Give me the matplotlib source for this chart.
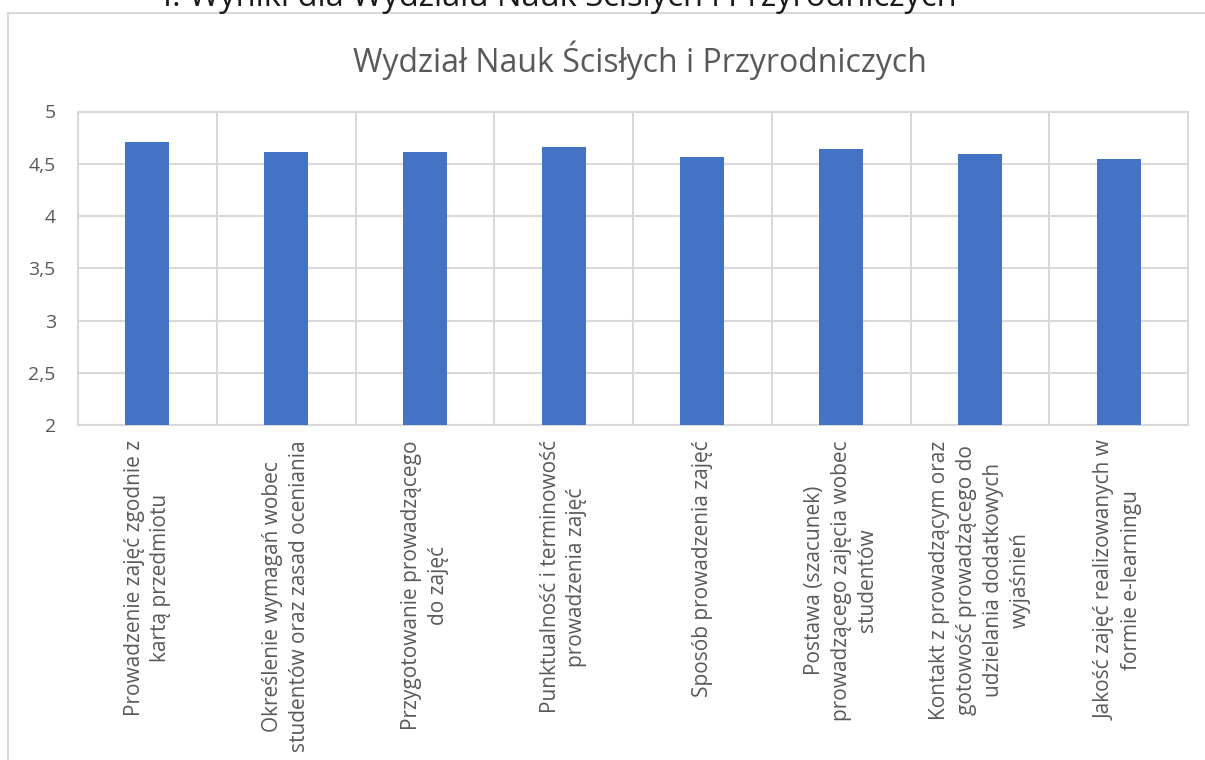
import matplotlib
matplotlib.use("Agg")
import matplotlib.pyplot as plt
from matplotlib.patches import Rectangle
from matplotlib.ticker import FuncFormatter, FixedLocator

plt.rcParams['font.family'] = ['Open Sans', 'DejaVu Sans']

page_heading = "I. Wyniki dla Wydziału Nauk Ścisłych i Przyrodniczych"
title = "Wydział Nauk Ścisłych i Przyrodniczych"
categories = [
    "Prowadzenie zajęć zgodnie z\nkartą przedmiotu",
    "Określenie wymagań wobec\nstudentów oraz zasad oceniania",
    "Przygotowanie prowadzącego\ndo zajęć",
    "Punktualność i terminowość\nprowadzenia zajęć",
    "Sposób prowadzenia zajęć",
    "Postawa (szacunek)\nprowadzącego zajęcia wobec\nstudentów",
    "Kontakt z prowadzącym oraz\ngotowość prowadzącego do\nudzielania dodatkowych\nwyjaśnień",
    "Jakość zajęć realizowanych w\nformie e-learningu",
]
values = [4.71, 4.61, 4.61, 4.66, 4.56, 4.64, 4.59, 4.55]
y_ticks = [2, 2.5, 3, 3.5, 4, 4.5, 5]

W, H = 1205, 760
fig = plt.figure(figsize=(W / 100, H / 100), dpi=100)
ax = fig.add_axes([78 / W, 1 - 425 / H, (1188 - 78) / W, (425 - 111.5) / H])

grid_c = "#d9d9d9"
text_c = "#595959"

x = list(range(len(values)))
ax.bar(x, values, width=0.317, color="#4472C4", zorder=3, bottom=0)
ax.set_xlim(-0.5, len(values) - 0.5)
ax.set_ylim(2, 5)
ax.set_yticks(y_ticks)
ax.yaxis.set_major_formatter(FuncFormatter(lambda v, p: (f"{v:g}").replace(".", ",")))
ax.set_xticks(x)
ax.set_xticklabels(categories, rotation=90, ha="center", va="top",
                   multialignment="center", fontsize=15, color=text_c,
                   linespacing=1.35)
ax.xaxis.set_minor_locator(FixedLocator([i - 0.5 for i in range(len(values) + 1)]))
ax.grid(True, which="major", axis="y", color=grid_c, lw=1.5, zorder=0)
ax.grid(True, which="minor", axis="x", color=grid_c, lw=1.5, zorder=0)
ax.tick_params(axis="both", which="both", length=0)
ax.tick_params(axis="y", labelsize=14, labelcolor=text_c, pad=16)
ax.tick_params(axis="x", pad=11)
for s in ax.spines.values():
    s.set_color(grid_c)
    s.set_linewidth(1.5)

fig.text(640 / W, 1 - 60 / H, title, ha="center", va="center",
         fontsize=23, color=text_c)
fig.text(560 / W, 1 - 6 / H, page_heading, ha="center", va="baseline",
         fontsize=23.5, color="#1a1a1a")

fig.patches.append(Rectangle((8 / W, -0.1), 1.2, 1 - 13 / H + 0.1,
                             transform=fig.transFigure, fill=False,
                             edgecolor=grid_c, lw=1.5))

fig.savefig("out.png", dpi=100)
